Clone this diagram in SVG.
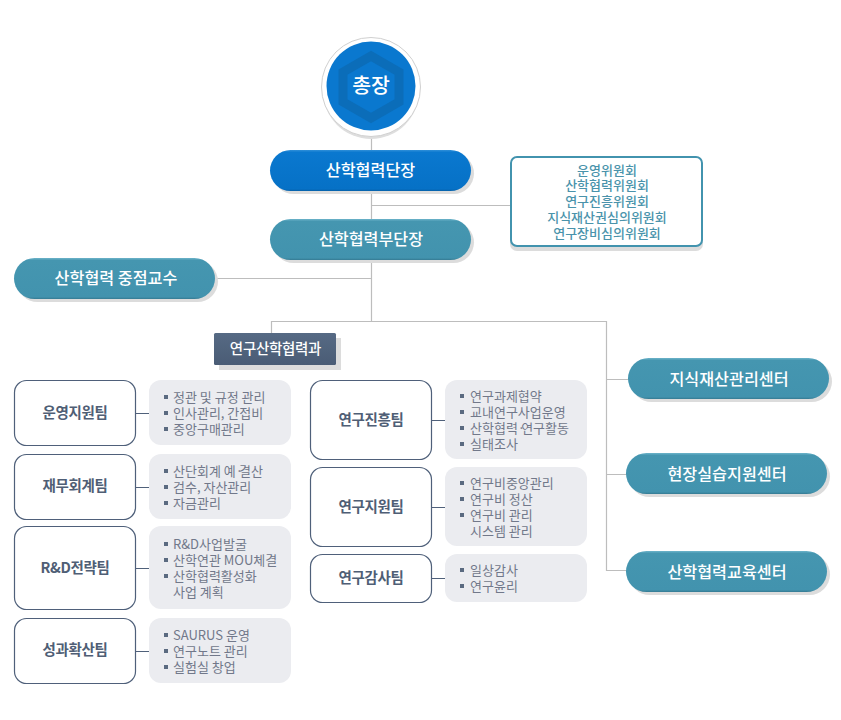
<svg xmlns="http://www.w3.org/2000/svg" width="841" height="720" viewBox="0 0 841 720">
<defs>
<linearGradient id="gb" x1="0" y1="0" x2="0" y2="1"><stop offset="0" stop-color="#2f8fd8"/><stop offset="0.06" stop-color="#0a78cf"/><stop offset="0.95" stop-color="#0671c6"/><stop offset="1" stop-color="#0660a8"/></linearGradient>
<linearGradient id="gt" x1="0" y1="0" x2="0" y2="1"><stop offset="0" stop-color="#6db4ca"/><stop offset="0.06" stop-color="#4596b0"/><stop offset="0.95" stop-color="#4293ae"/><stop offset="1" stop-color="#357a92"/></linearGradient>
<linearGradient id="gd" x1="0" y1="0" x2="0" y2="1"><stop offset="0" stop-color="#566a84"/><stop offset="1" stop-color="#4a5c75"/></linearGradient>
</defs>
<style>
text{font-family:"Noto Sans CJK KR","Noto Sans",sans-serif;text-anchor:middle}
.sh{fill:#dcdcdc}
.w{fill:#fff;font-size:16.2px;font-weight:500}
.c{fill:#4a93ab;font-size:13px;font-weight:500}
.team{fill:#fff;stroke:#4f607a;stroke-width:1.2}
.tt{fill:#4f5e75;font-size:14.500px;font-weight:700;letter-spacing:-0.3px}
.g{fill:#ebecf0}
.l{fill:#71788a;font-size:13px;text-anchor:start}
.b{fill:#5a6a80}
.ln{fill:none;stroke:#bdbdbd;stroke-width:1.2}
.ld{fill:none;stroke:#4f607a;stroke-width:1.2}
</style>
<g id="connectors">
<path class="ln" d="M371.500 135V321M371.500 205.500H511M215 278.500H371M271.500 333V321.500H606.500V570.500H627M606 379.500H629M606 474.500H627"/>
<path class="ld" d="M135 413.500H149M135 487.500H149M135 568.500H149M135 651.500H149M431 420.500H445M431 507.500H445M431 578.500H445"/>
</g>
<g id="president">
<circle cx="371" cy="91" r="48" fill="#dedede"/>
<circle cx="371" cy="87" r="49.500" fill="#fff" stroke="#d0d0d0"/>
<circle cx="371" cy="86" r="44.500" fill="#0a78cf"/>
<path d="M371 56L399 72V102L371 118L343 102V72Z" fill="none" stroke="#0b6db9" stroke-width="9"/>
<text x="371" y="93" fill="#fff" style="font-size:20.500px;font-weight:500">총장</text>
</g>
<g id="dean">
<rect class="sh" x="273" y="153" width="201" height="41" rx="20.500"/>
<rect x="270" y="150" width="201" height="41" rx="20.500" fill="url(#gb)"/>
<text class="w" x="370.500" y="176">산학협력단장</text>
</g>
<g id="vice-dean">
<rect class="sh" x="273" y="222" width="201" height="41" rx="20.500"/>
<rect x="270" y="219" width="201" height="41" rx="20.500" fill="url(#gt)"/>
<text class="w" x="371" y="245">산학협력부단장</text>
</g>
<g id="committees">
<rect class="sh" x="510" y="160" width="193" height="91" rx="7"/>
<rect x="511" y="157" width="191" height="89" rx="6" fill="#fff" stroke="#4293ae" stroke-width="2"/>
<text class="c" x="607" y="175">운영위원회</text>
<text class="c" x="607" y="190">산학협력위원회</text>
<text class="c" x="607" y="206">연구진흥위원회</text>
<text class="c" x="607" y="222">지식재산권심의위원회</text>
<text class="c" x="607" y="238">연구장비심의위원회</text>
</g>
<g id="professor">
<rect class="sh" x="17" y="261" width="201" height="41" rx="20.500"/>
<rect x="14" y="258" width="201" height="41" rx="20.500" fill="url(#gt)"/>
<text class="w" x="116" y="284">산학협력 중점교수</text>
</g>
<g id="department">
<rect class="sh" x="219" y="338" width="122" height="32"/>
<rect x="214" y="333" width="122" height="32" rx="1.500" fill="url(#gd)"/>
<text x="275.500" y="354" fill="#fff" style="font-size:14.500px;font-weight:500;letter-spacing:-0.3px">연구산학협력과</text>
</g>
<g id="center-ip">
<rect class="sh" x="631" y="361" width="201" height="41" rx="20.500"/>
<rect x="628" y="358" width="201" height="41" rx="20.500" fill="url(#gt)"/>
<text class="w" x="729" y="385">지식재산관리센터</text>
</g>
<g id="center-field">
<rect class="sh" x="629" y="456" width="201" height="41" rx="20.500"/>
<rect x="626" y="453" width="201" height="41" rx="20.500" fill="url(#gt)"/>
<text class="w" x="727" y="480">현장실습지원센터</text>
</g>
<g id="center-edu">
<rect class="sh" x="629" y="554" width="201" height="41" rx="20.500"/>
<rect x="626" y="551" width="201" height="41" rx="20.500" fill="url(#gt)"/>
<text class="w" x="727" y="578">산학협력교육센터</text>
</g>
<g id="team-ops">
<rect class="team" x="14.500" y="380.500" width="121" height="65" rx="12"/>
<text class="tt" x="75" y="418">운영지원팀</text>
<rect class="g" x="149" y="380" width="142" height="65" rx="12"/>
<rect class="b" x="164" y="395" width="4" height="4"/><text class="l" x="173" y="402">정관 및 규정 관리</text>
<rect class="b" x="164" y="411" width="4" height="4"/><text class="l" x="173" y="418">인사관리, 간접비</text>
<rect class="b" x="164" y="427" width="4" height="4"/><text class="l" x="173" y="434">중앙구매관리</text>
</g>
<g id="team-finance">
<rect class="team" x="14.500" y="454.500" width="121" height="65" rx="12"/>
<text class="tt" x="75" y="491">재무회계팀</text>
<rect class="g" x="149" y="454" width="142" height="65" rx="12"/>
<rect class="b" x="164" y="469" width="4" height="4"/><text class="l" x="173" y="476">산단회계 예<tspan letter-spacing="-4">·</tspan>결산</text>
<rect class="b" x="164" y="485" width="4" height="4"/><text class="l" x="173" y="492">검수, 자산관리</text>
<rect class="b" x="164" y="501" width="4" height="4"/><text class="l" x="173" y="508">자금관리</text>
</g>
<g id="team-rd">
<rect class="team" x="14.500" y="526.500" width="121" height="83" rx="12"/>
<text class="tt" x="75" y="573">R&amp;D전략팀</text>
<rect class="g" x="149" y="526" width="142" height="83" rx="12"/>
<rect class="b" x="164" y="542" width="4" height="4"/><text class="l" x="173" y="549">R&amp;D사업발굴</text>
<rect class="b" x="164" y="558" width="4" height="4"/><text class="l" x="173" y="565">산학연관 MOU체결</text>
<rect class="b" x="164" y="574" width="4" height="4"/><text class="l" x="173" y="581">산학협력활성화</text>
<text class="l" x="173" y="597">사업 계획</text>
</g>
<g id="team-perf">
<rect class="team" x="14.500" y="618.500" width="121" height="65" rx="12"/>
<text class="tt" x="75" y="655">성과확산팀</text>
<rect class="g" x="149" y="618" width="142" height="65" rx="12"/>
<rect class="b" x="164" y="633" width="4" height="4"/><text class="l" x="173" y="640">SAURUS 운영</text>
<rect class="b" x="164" y="649" width="4" height="4"/><text class="l" x="173" y="656">연구노트 관리</text>
<rect class="b" x="164" y="665" width="4" height="4"/><text class="l" x="173" y="672">실험실 창업</text>
</g>
<g id="team-promo">
<rect class="team" x="310.500" y="380.500" width="121" height="79" rx="12"/>
<text class="tt" x="371" y="425">연구진흥팀</text>
<rect class="g" x="445" y="380" width="142" height="79" rx="12"/>
<rect class="b" x="460" y="394" width="4" height="4"/><text class="l" x="470" y="401">연구과제협약</text>
<rect class="b" x="460" y="410" width="4" height="4"/><text class="l" x="470" y="417">교내연구사업운영</text>
<rect class="b" x="460" y="426" width="4" height="4"/><text class="l" x="470" y="433">산학협력<tspan letter-spacing="-4">·</tspan>연구활동</text>
<rect class="b" x="460" y="442" width="4" height="4"/><text class="l" x="470" y="449">실태조사</text>
</g>
<g id="team-support">
<rect class="team" x="310.500" y="467.500" width="121" height="79" rx="12"/>
<text class="tt" x="371" y="512">연구지원팀</text>
<rect class="g" x="445" y="467" width="142" height="79" rx="12"/>
<rect class="b" x="460" y="481" width="4" height="4"/><text class="l" x="470" y="488">연구비중앙관리</text>
<rect class="b" x="460" y="497" width="4" height="4"/><text class="l" x="470" y="504">연구비 정산</text>
<rect class="b" x="460" y="513" width="4" height="4"/><text class="l" x="470" y="520">연구비 관리</text>
<text class="l" x="470" y="536">시스템 관리</text>
</g>
<g id="team-audit">
<rect class="team" x="310.500" y="554.500" width="121" height="48" rx="12"/>
<text class="tt" x="371" y="583">연구감사팀</text>
<rect class="g" x="445" y="554" width="142" height="48" rx="12"/>
<rect class="b" x="460" y="568" width="4" height="4"/><text class="l" x="470" y="575">일상감사</text>
<rect class="b" x="460" y="584" width="4" height="4"/><text class="l" x="470" y="591">연구윤리</text>
</g>
</svg>
